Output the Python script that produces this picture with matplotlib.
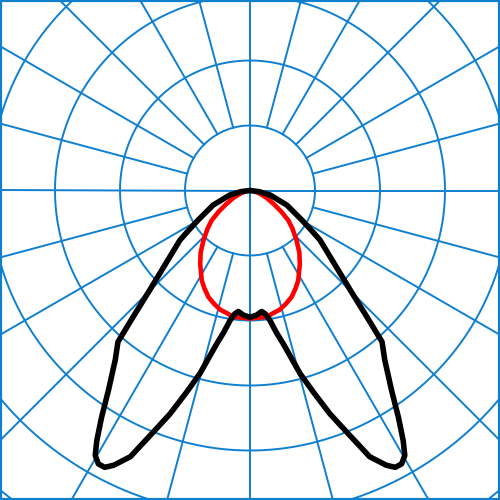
import numpy as np
import matplotlib
matplotlib.use('Agg')
import matplotlib.pyplot as plt

# 光强分布 (角度从正下方算起, 单位: 每圈 100)
black_angles = [0, 3, 5.5, 7, 8.7, 10.5, 12.3, 15.3, 17.5, 19.7, 21.8, 24.2,
                26.4, 27.7, 29, 30.3, 31.5, 33.2, 35.3, 38.5, 41.1, 42.8,
                45.1, 48.7, 54.7, 57.1, 60.3, 68.4, 77.3, 83, 90]
black_values = [195, 192, 187, 191, 202, 222, 242, 292, 326, 365, 400, 449,
                472, 481, 481, 472, 451, 417, 377, 333, 309, 264,
                219, 175, 132, 112, 92, 61, 32, 14, 0]

red_angles = [0, 4.5, 7.6, 10.7, 14, 17.5, 21.3, 25, 28.2, 34, 38.5, 43, 48,
              52, 56, 60.3, 66, 73, 81, 90]
red_values = [197, 196, 196, 192, 189, 183, 176, 166, 157, 137, 122, 105, 88,
              75, 58, 42, 28, 15, 6, 0]

ring_step = 100
grid_color = '#0f7fd0'


def to_xy(angles, values):
    """对称展开并转为直角坐标"""
    a = np.asarray(angles, dtype=float)
    v = np.asarray(values, dtype=float)
    th = np.radians(np.concatenate([-a[::-1], a[1:]]))
    r = np.concatenate([v[::-1], v[1:]])
    return r * np.sin(th), -r * np.cos(th)


fig = plt.figure(figsize=(5, 5), dpi=100)
ax = fig.add_axes([0, 0, 1, 1])
scale = ring_step / 65.0
ax.set_xlim(-250 * scale, 250 * scale)
ax.set_ylim(-309.5 * scale, 190.5 * scale)
ax.set_aspect('equal')
ax.set_xticks([])
ax.set_yticks([])
for sp in ax.spines.values():
    sp.set_color(grid_color)
    sp.set_linewidth(3)

# 同心圆
t = np.linspace(0, 2 * np.pi, 721)
for k in range(1, 8):
    ax.plot(k * ring_step * np.cos(t), k * ring_step * np.sin(t),
            color=grid_color, lw=1.4)

# 径向线
for deg in range(0, 360, 15):
    th = np.radians(deg)
    r0 = 0 if deg % 90 == 0 else ring_step
    ax.plot([r0 * np.cos(th), 1000 * np.cos(th)],
            [r0 * np.sin(th), 1000 * np.sin(th)],
            color=grid_color, lw=1.4)

rx, ry = to_xy(red_angles, red_values)
ax.plot(rx, ry, color='#ff0000', lw=3.3, solid_joinstyle='round',
        solid_capstyle='round', zorder=3)
bx, by = to_xy(black_angles, black_values)
ax.plot(bx, by, color='black', lw=4.0, solid_joinstyle='round',
        solid_capstyle='round', zorder=4)

fig.savefig('out.png', dpi=100)
